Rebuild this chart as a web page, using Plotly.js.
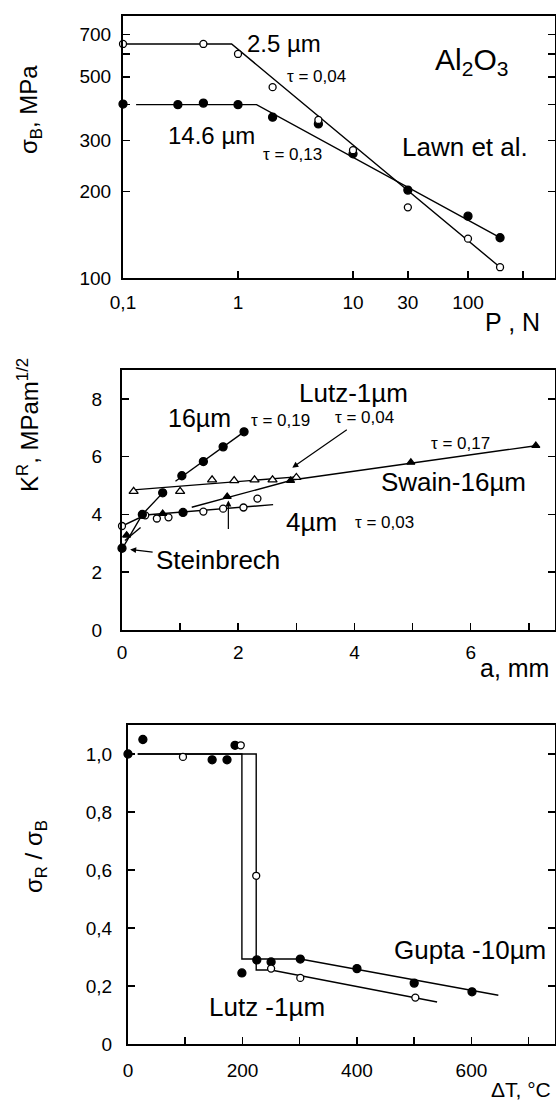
<!DOCTYPE html>
<html><head><meta charset="utf-8">
<script src="https://cdn.plot.ly/plotly-3.0.1.min.js"></script>
<style>html,body{margin:0;padding:0;background:#fff}</style>
</head><body><div id="chart" style="width:556px;height:1101px"></div>
<script>
// ---------- Panel 1: sigma_B vs indentation load P (Lawn et al.) ----------
const loadP_25 = [0.1, 0.5, 1, 2, 5, 10, 30, 100, 190];
const sigma_25 = [650, 650, 600, 460, 354, 278, 176, 137, 109];
const fitP_25 = [0.1, 0.88, 190];
const fitS_25 = [650, 650, 109];
const loadP_146 = [0.1, 0.3, 0.5, 1, 2, 5, 10, 30, 100, 190];
const sigma_146 = [402, 400, 405, 400, 362, 343, 270, 202, 164, 138];
const fitP_146 = [0.13, 1.45, 190];
const fitS_146 = [400, 400, 138];
const p1TickVals = [0.1, 1, 10, 30, 100];
const p1TickText = ['0,1', '1', '10', '30', '100'];
const p1MinorVals = [300];
const s1TickVals = [100, 200, 300, 500, 700];
const s1TickText = ['100', '200', '300', '500', '700'];
const s1MinorVals = [400, 600];

// ---------- Panel 2: R-curves K^R vs crack length a ----------
const a_16 = [0, 0.35, 0.7, 1.03, 1.4, 1.74, 2.1];
const K_16 = [2.83, 4.0, 4.75, 5.34, 5.83, 6.34, 6.86];
const fitA_16a = [0, 0.35, 0.75];
const fitK_16a = [2.8, 4.0, 4.85];
const fitA_16b = [0.92, 2.1];
const fitK_16b = [5.15, 6.86];
const a_steinFilled = [1.05];
const K_steinFilled = [4.07];
const a_lutz = [0.2, 1.0, 1.55, 1.93, 2.28, 2.59, 3.0];
const K_lutz = [4.8, 4.8, 5.2, 5.17, 5.2, 5.2, 5.28];
const fitA_lutz = [0.2, 3.0];
const fitK_lutz = [4.85, 5.3];
const a_swain = [0.08, 0.7, 1.81, 2.9, 4.97, 7.12];
const K_swain = [3.28, 4.03, 4.62, 5.17, 5.8, 6.38];
const fitA_swain = [0.05, 0.32, null, 1.2, 2.95, 7.12];
const fitK_swain = [3.1, 3.55, null, 4.25, 5.2, 6.38];
const a_4 = [0, 0.4, 0.6, 0.8, 1.4, 1.74, 2.09, 2.33];
const K_4 = [3.6, 3.97, 3.86, 3.9, 4.1, 4.2, 4.24, 4.55];
const fitA_4 = [0, 0.4, 2.6];
const fitK_4 = [3.6, 3.98, 4.34];
const aTickVals = [0, 2, 4, 6];
const aMinorVals = [1, 3, 5, 7];
const kTickVals = [0, 2, 4, 6, 8];

// ---------- Panel 3: thermal shock sigma_R/sigma_B vs deltaT ----------
const dT_gupta = [0, 26, 147, 173, 187, 199, 225, 250, 301, 400, 500, 601];
const r_gupta = [1.0, 1.05, 0.98, 0.98, 1.03, 0.245, 0.29, 0.283, 0.293, 0.26, 0.21, 0.18];
const fitT_gupta = [17, 199, 199, 301, 647];
const fitR_gupta = [1.0, 1.0, 0.293, 0.293, 0.168];
const dT_lutz = [96, 197, 224, 250, 301, 502];
const r_lutz = [0.99, 1.03, 0.58, 0.26, 0.228, 0.16];
const fitT_lutz = [17, 224, 224, 250, 540];
const fitR_lutz = [1.0, 1.0, 0.255, 0.255, 0.145];
const tTickVals = [0, 200, 400, 600];
const tMinorVals = [100, 300, 500, 700];
const rTickVals = [0, 0.2, 0.4, 0.6, 0.8, 1.0];
const rTickText = ['0', '0,2', '0,4', '0,6', '0,8', '1,0'];

// ---------- drawing ----------
const W = 556, H = 1101;
const px = x => x / W;
const py = y => 1 - y / H;
const FONT = 'Liberation Sans Narrow, Liberation Sans, Arial, sans-serif';
const TFONT = 'Liberation Sans, Arial, sans-serif';

function lineTrace(x, y, xa, ya, name) {
  return {x, y, xaxis: xa, yaxis: ya, mode: 'lines', name, line: {color: '#000', width: 1.4},
          cliponaxis: false, connectgaps: false, hoverinfo: 'skip'};
}
function markTrace(x, y, xa, ya, name, symbol, filled, size) {
  return {x, y, xaxis: xa, yaxis: ya, mode: 'markers', name, cliponaxis: false,
          marker: {symbol, size, color: filled ? '#000' : '#fff', line: {color: '#000', width: 1.3}}};
}

const traces = [
  lineTrace(fitP_25, fitS_25, 'x', 'y', '2.5 µm fit'),
  lineTrace(fitP_146, fitS_146, 'x', 'y', '14.6 µm fit'),
  markTrace(loadP_146, sigma_146, 'x', 'y', '14.6 µm', 'circle', true, 8),
  markTrace(loadP_25, sigma_25, 'x', 'y', '2.5 µm', 'circle', false, 7),

  lineTrace(fitA_16a, fitK_16a, 'x2', 'y2', '16 µm fit a'),
  lineTrace(fitA_16b, fitK_16b, 'x2', 'y2', '16 µm fit b'),
  lineTrace(fitA_lutz, fitK_lutz, 'x2', 'y2', 'Lutz fit'),
  lineTrace(fitA_swain, fitK_swain, 'x2', 'y2', 'Swain fit'),
  lineTrace(fitA_4, fitK_4, 'x2', 'y2', '4 µm fit'),
  markTrace(a_4, K_4, 'x2', 'y2', '4 µm', 'circle', false, 7),
  markTrace(a_lutz, K_lutz, 'x2', 'y2', 'Lutz-1µm', 'triangle-up', false, 8),
  markTrace(a_swain, K_swain, 'x2', 'y2', 'Swain-16µm', 'triangle-up', true, 7),
  markTrace(a_16, K_16, 'x2', 'y2', '16 µm', 'circle', true, 8),
  markTrace(a_steinFilled, K_steinFilled, 'x2', 'y2', 'Steinbrech', 'circle', true, 8),

  lineTrace(fitT_gupta, fitR_gupta, 'x3', 'y3', 'Gupta fit'),
  lineTrace(fitT_lutz, fitR_lutz, 'x3', 'y3', 'Lutz fit'),
  markTrace(dT_gupta, r_gupta, 'x3', 'y3', 'Gupta -10µm', 'circle', true, 8),
  markTrace(dT_lutz, r_lutz, 'x3', 'y3', 'Lutz -1µm', 'circle', false, 7)
];

const minorBase = {ticks: 'inside', ticklen: 7, tickwidth: 1.5, tickcolor: '#000', showgrid: false};
const axBase = {showgrid: false, zeroline: false, showline: true, linecolor: '#000', linewidth: 2,
  ticks: 'inside', ticklen: 7, tickwidth: 1.5, tickcolor: '#000', fixedrange: true,
  ticklabelstandoff: 4, tickfont: {family: FONT, size: 19, color: '#000'}};

const layout = {
  width: W, height: H, margin: {l: 0, r: 0, t: 0, b: 0},
  paper_bgcolor: '#fff', plot_bgcolor: '#fff', showlegend: false,
  xaxis: Object.assign({}, axBase, {type: 'log', range: [-1, Math.log10(571)], domain: [px(123), px(555)],
    anchor: 'y', tickmode: 'array', tickvals: p1TickVals, ticktext: p1TickText, mirror: true, ticklabelstandoff: 6,
    minor: Object.assign({tickmode: 'array', tickvals: p1MinorVals}, minorBase)}),
  yaxis: Object.assign({}, axBase, {type: 'log', range: [2, 2.91], domain: [py(278), py(16)],
    anchor: 'x', tickmode: 'array', tickvals: s1TickVals, ticktext: s1TickText, mirror: 'ticks', ticklabelstandoff: 6,
    minor: Object.assign({tickmode: 'array', tickvals: s1MinorVals}, minorBase)}),
  xaxis2: Object.assign({}, axBase, {range: [0, 7.45], domain: [px(122), px(555)], anchor: 'y2',
    tickmode: 'array', tickvals: aTickVals, mirror: true, ticklabelstandoff: 4,
    minor: Object.assign({tickmode: 'array', tickvals: aMinorVals}, minorBase)}),
  yaxis2: Object.assign({}, axBase, {range: [0, 9], domain: [py(630), py(370)], anchor: 'x2',
    tickmode: 'array', tickvals: kTickVals, mirror: 'ticks', ticklabelstandoff: 14}),
  xaxis3: Object.assign({}, axBase, {range: [0, 746], domain: [px(128), px(555)], anchor: 'y3',
    tickmode: 'array', tickvals: tTickVals, mirror: true, ticklabelstandoff: 8,
    minor: Object.assign({tickmode: 'array', tickvals: tMinorVals}, minorBase)}),
  yaxis3: Object.assign({}, axBase, {range: [0, 1.1], domain: [py(1044), py(725)], anchor: 'x3',
    tickmode: 'array', tickvals: rTickVals, ticktext: rTickText, mirror: 'ticks', ticklabelstandoff: 10}),
  annotations: []
};

function txt(text, x, y, size, xanchor, extra) {
  layout.annotations.push(Object.assign({text, xref: 'paper', yref: 'paper', x: px(x), y: py(y),
    xanchor: xanchor || 'center', yanchor: 'middle', showarrow: false,
    font: {family: TFONT, size, color: '#000'}}, extra || {}));
}
// text with an arrow pointing to a data location; text centre given in pixels
function txtArrow(text, size, xa, ya, x, y, cx, cy, tipPx) {
  layout.annotations.push({text, xref: xa, yref: ya, x, y, axref: 'pixel', ayref: 'pixel',
    ax: cx - tipPx[0], ay: cy - tipPx[1], showarrow: true, arrowhead: 2, arrowsize: 1,
    arrowwidth: 1.2, arrowcolor: '#000', standoff: 0, startstandoff: 2,
    font: {family: TFONT, size, color: '#000'}});
}
function arrow(xa, ya, x, y, ax, ay) {
  layout.annotations.push({text: '', xref: xa, yref: ya, x, y, ax, ay, showarrow: true,
    arrowhead: 2, arrowsize: 1, arrowwidth: 1.2, arrowcolor: '#000'});
}

// panel 1 labels
txt('σ<sub>B</sub>, MPa', 30, 110, 24, 'center', {textangle: -90});
txt('2.5 µm', 284, 43, 24);
txt('τ = 0,04', 285, 76, 17, 'left');
txt('14.6 µm', 211, 135, 24);
txt('τ = 0,13', 292, 155, 17);
txt('Al<sub>2</sub>O<sub>3</sub>', 471, 62, 30);
txt('Lawn et al.', 465, 147, 26);
txt('P , N', 483, 322, 25, 'left');

// panel 2 labels
txt('K<sup>R</sup>, MPam<sup>1/2</sup>', 28, 425, 24, 'center', {textangle: -90});
txt('16µm', 199, 418, 25);
txt('τ = 0,19', 280, 420, 17);
txt('Lutz-1µm', 353, 393, 26);
txtArrow('τ = 0,04', 17, 'x2', 'y2', 2.93, 5.62, 364, 417, [292, 467]);
txt('τ = 0,17', 460, 443, 17);
txt('Swain-16µm', 453, 482, 26);
txt('4µm', 311, 522, 26);
txt('τ = 0,03', 384, 522, 17);
txtArrow('Steinbrech', 26, 'x2', 'y2', 0.14, 2.79, 218, 560, [130, 549]);
txt('a, mm', 478, 668, 25, 'left');
arrow('x2', 'y2', 1.83, 4.48, 0, 30);

// panel 3 labels
txt('σ<sub>R</sub> / σ<sub>B</sub>', 36, 857, 24, 'center', {textangle: -90});
txt('Gupta -10µm', 470, 950, 26);
txt('Lutz -1µm', 267, 1007, 26);
txt('ΔT, °C', 489, 1089, 21, 'left');

Plotly.newPlot('chart', traces, layout, {staticPlot: true, displayModeBar: false});
</script>
</body></html>
